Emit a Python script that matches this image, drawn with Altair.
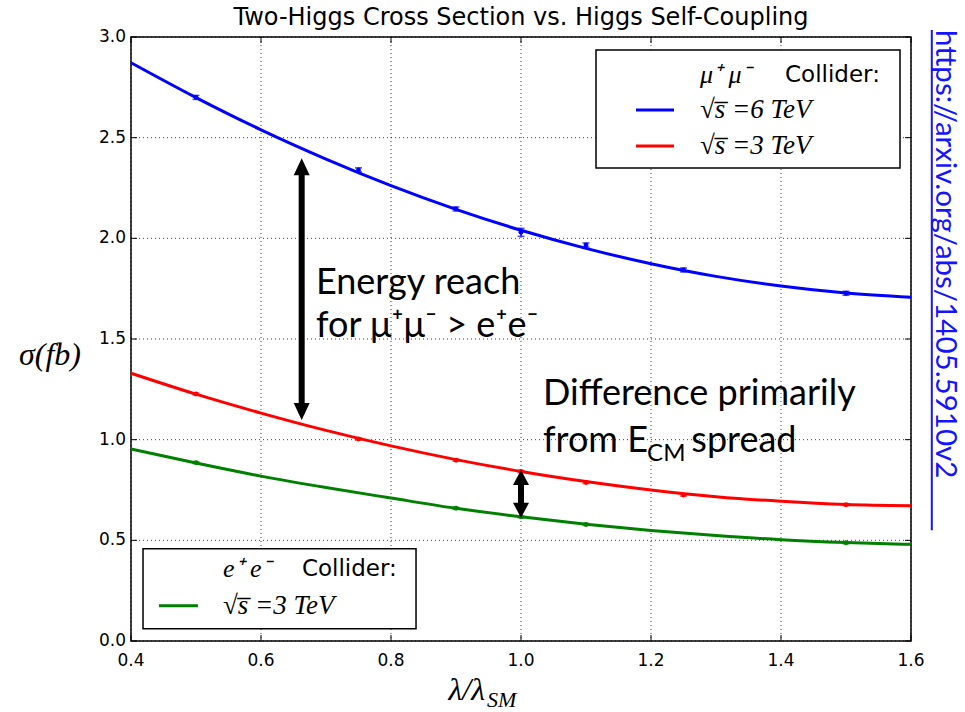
import altair as alt
import pandas as pd

# ---------------- data ----------------
lam_curve = [0.4, 0.5, 0.6, 0.7, 0.8, 0.9, 1.0, 1.1, 1.2, 1.3, 1.4, 1.5, 1.6]
mumu6_fit = [2.872, 2.699, 2.539, 2.394, 2.262, 2.144, 2.040, 1.950, 1.874, 1.811, 1.763, 1.728, 1.707]
mumu3_fit = [1.330, 1.226, 1.132, 1.046, 0.969, 0.901, 0.842, 0.792, 0.750, 0.717, 0.694, 0.678, 0.672]
ee3_fit = [0.954, 0.884, 0.819, 0.762, 0.710, 0.659, 0.617, 0.580, 0.549, 0.524, 0.503, 0.489, 0.480]

lam_mumu = [0.5, 0.75, 0.9, 1.0, 1.1, 1.25, 1.5]
mumu6_pts = [2.700, 2.340, 2.146, 2.030, 1.967, 1.843, 1.727]
mumu6_err = [0.010, 0.010, 0.010, 0.020, 0.010, 0.010, 0.010]
mumu3_pts = [1.227, 1.003, 0.898, 0.842, 0.787, 0.725, 0.677]
mumu3_err = [0.005, 0.005, 0.005, 0.005, 0.005, 0.005, 0.005]
lam_ee = [0.5, 0.9, 1.0, 1.1, 1.5]
ee3_pts = [0.886, 0.659, 0.617, 0.579, 0.488]
ee3_err = [0.005, 0.005, 0.005, 0.005, 0.005]

series = ["mumu6", "mumu3", "ee3"]
series_colors = ["#0000ff", "#ff0000", "#008000"]
x_ticks = [0.4, 0.6, 0.8, 1.0, 1.2, 1.4, 1.6]
y_ticks = [0.0, 0.5, 1.0, 1.5, 2.0, 2.5, 3.0]

# ---------------- tables ----------------
curve_rows = []
for name, vals in zip(series, [mumu6_fit, mumu3_fit, ee3_fit]):
    for lx, v in zip(lam_curve, vals):
        curve_rows.append({"lam": lx, "sigma": v, "series": name})
df_curve = pd.DataFrame(curve_rows)

pt_rows = []
for name, lams, vals, errs in [("mumu6", lam_mumu, mumu6_pts, mumu6_err),
                               ("mumu3", lam_mumu, mumu3_pts, mumu3_err),
                               ("ee3", lam_ee, ee3_pts, ee3_err)]:
    for lx, v, e in zip(lams, vals, errs):
        pt_rows.append({"lam": lx, "sigma": v, "lo": v - e, "hi": v + e, "series": name})
df_pts = pd.DataFrame(pt_rows)

W, H = 780, 604
xs = alt.Scale(domain=[0.4, 1.6], nice=False, zero=False)
ys = alt.Scale(domain=[0.0, 3.0], nice=False, zero=False)
cs = alt.Scale(domain=series, range=series_colors)


def X(f):
    return alt.X(f, type="quantitative", scale=xs, axis=None)


def Y(f):
    return alt.Y(f, type="quantitative", scale=ys, axis=None)


COL = alt.Color("series:N", scale=cs, legend=None)

df_xt = pd.DataFrame({"v": x_ticks})
df_yt = pd.DataFrame({"v": y_ticks})
GRID = dict(color="black", strokeWidth=1, strokeDash=[1, 3], opacity=0.75)

# grid, ticks and tick labels drawn through the x / y scales
axis_layers = [
    alt.Chart(df_xt).mark_rule(**GRID).encode(x=X("v"), y=alt.value(0), y2=alt.value(H)),
    alt.Chart(df_yt).mark_rule(**GRID).encode(y=Y("v"), x=alt.value(0), x2=alt.value(W)),
    alt.Chart(df_xt).mark_rule(color="black", strokeWidth=1).encode(
        x=X("v"), y=alt.value(H - 6), y2=alt.value(H)),
    alt.Chart(df_xt).mark_rule(color="black", strokeWidth=1).encode(
        x=X("v"), y=alt.value(0), y2=alt.value(6)),
    alt.Chart(df_yt).mark_rule(color="black", strokeWidth=1).encode(
        y=Y("v"), x=alt.value(0), x2=alt.value(6)),
    alt.Chart(df_yt).mark_rule(color="black", strokeWidth=1).encode(
        y=Y("v"), x=alt.value(W - 6), x2=alt.value(W)),
    alt.Chart(df_xt).mark_text(font="DejaVu Sans", fontSize=17, color="black", align="center",
                               baseline="alphabetic").encode(
        x=X("v"), y=alt.value(H + 25), text=alt.Text("v:Q", format=".1f")),
    alt.Chart(df_yt).mark_text(font="DejaVu Sans", fontSize=17, color="black", align="right",
                               baseline="middle").encode(
        y=Y("v"), x=alt.value(-5), text=alt.Text("v:Q", format=".1f")),
]

curves = alt.Chart(df_curve).mark_line(strokeWidth=3, interpolate="monotone").encode(
    x=X("lam"), y=Y("sigma"), color=COL, detail="series:N")

pts_base = alt.Chart(df_pts)
err_rules = pts_base.mark_rule(strokeWidth=1.5).encode(x=X("lam"), y=Y("lo"), y2="hi:Q", color=COL)
caps_lo = pts_base.mark_tick(orient="horizontal", size=7, thickness=1.5).encode(
    x=X("lam"), y=Y("lo"), color=COL)
caps_hi = pts_base.mark_tick(orient="horizontal", size=7, thickness=1.5).encode(
    x=X("lam"), y=Y("hi"), color=COL)
dots = pts_base.mark_circle(size=24, opacity=1).encode(x=X("lam"), y=Y("sigma"), color=COL)


def txt(s, x, y, size, font="Lato", color="black", align="left", baseline="alphabetic",
        style="normal", angle=0):
    d = pd.DataFrame({"x": [x], "y": [y], "t": [s]})
    return alt.Chart(d).mark_text(font=font, fontSize=size, color=color, align=align,
                                  baseline=baseline, fontStyle=style, angle=angle).encode(
        x=X("x"), y=Y("y"), text="t:N")


def ptxt(s, px, py, size, font, style="normal", align="center", baseline="alphabetic"):
    d = pd.DataFrame({"t": [s]})
    return alt.Chart(d).mark_text(font=font, fontSize=size, color="black", align=align,
                                  baseline=baseline, fontStyle=style).encode(
        x=alt.value(px), y=alt.value(py), text="t:N")


def rule(x1, x2, y1, y2, color, width):
    d = pd.DataFrame({"x": [x1], "x2": [x2], "y": [y1], "y2": [y2]})
    return alt.Chart(d).mark_rule(color=color, strokeWidth=width).encode(
        x=X("x"), x2="x2:Q", y=Y("y"), y2="y2:Q")


def box(x1, x2, y1, y2):
    d = pd.DataFrame({"x": [x1], "x2": [x2], "y": [y1], "y2": [y2]})
    return alt.Chart(d).mark_rect(fill="white", stroke="black", strokeWidth=1.5).encode(
        x=X("x"), x2="x2:Q", y=Y("y"), y2="y2:Q")


def head(x, y, shape, size):
    d = pd.DataFrame({"x": [x], "y": [y]})
    return alt.Chart(d).mark_point(shape=shape, size=size, filled=True, color="black",
                                   opacity=1, strokeWidth=0).encode(x=X("x"), y=Y("y"))


UP = "M0,0L-0.94,2L0.94,2Z"
DOWN = "M0,0L-0.94,-2L0.94,-2Z"
UP_S = "M0,0L-1.07,2L1.07,2Z"
DOWN_S = "M0,0L-1.07,-2L1.07,-2Z"

annotations = [
    # big arrow
    rule(0.6626, 0.6626, 2.36, 1.13, "black", 6),
    head(0.6626, 2.398, UP, 289),
    head(0.6626, 1.098, DOWN, 289),
    # small arrow
    rule(1.0, 1.0, 0.82, 0.64, "black", 6),
    head(1.0, 0.849, UP_S, 225),
    head(1.0, 0.612, DOWN_S, 225),
    # texts
    txt("Energy reach", 0.6846, 1.724, 36),
    txt("for μ⁺μ⁻ > e⁺e⁻", 0.6846, 1.512, 36),
    txt("Difference primarily", 1.0338, 1.173, 36),
    txt("from E", 1.0338, 0.941, 36),
    txt("CM", 1.194, 0.896, 24),
    txt("spread", 1.262, 0.941, 36),
    # legend upper right
    box(1.1154, 1.5831, 2.9355, 2.3496),
    txt("μ⁺ μ⁻", 1.2754, 2.8113, 26, font="Liberation Serif", style="italic", baseline="middle"),
    txt("Collider:", 1.4062, 2.8113, 23, font="DejaVu Sans", baseline="middle"),
    rule(1.1769, 1.2354, 2.6375, 2.6375, "#0000ff", 3),
    txt("√s̅ =6 TeV", 1.2754, 2.6375, 27, font="Liberation Serif", style="italic", baseline="middle"),
    rule(1.1769, 1.2354, 2.4588, 2.4588, "#ff0000", 3),
    txt("√s̅ =3 TeV", 1.2754, 2.4588, 27, font="Liberation Serif", style="italic", baseline="middle"),
    # legend lower left
    box(0.4185, 0.8385, 0.4578, 0.0606),
    txt("e⁺ e⁻", 0.5415, 0.3585, 26, font="Liberation Serif", style="italic", baseline="middle"),
    txt("Collider:", 0.663, 0.3585, 23, font="DejaVu Sans", baseline="middle"),
    rule(0.443, 0.503, 0.1748, 0.1748, "#008000", 3),
    txt("√s̅ =3 TeV", 0.5415, 0.1748, 27, font="Liberation Serif", style="italic", baseline="middle"),
    # x axis title
    txt("λ/λ", 0.9446, -0.292, 32, font="Liberation Serif", style="italic", align="right"),
    txt("SM", 0.9477, -0.33, 22, font="Liberation Serif", style="italic"),
    # url on the right
    txt("https://arxiv.org/abs/1405.5910v2", 1.638, 3.035, 29.5, color="#1414ff", angle=90),
    rule(1.632, 1.632, 3.035, 0.55, "#1414ff", 2),
    # chart title and y axis title
    ptxt("Two-Higgs Cross Section vs. Higgs Self-Coupling", W / 2, -12, 24, "DejaVu Sans"),
    ptxt("σ(fb)", -81, 318, 32, "Liberation Serif", style="italic", baseline="middle"),
]

chart = alt.layer(*axis_layers, curves, err_rules, caps_lo, caps_hi, dots, *annotations).properties(
    width=W, height=H,
    autosize=alt.AutoSizeParams(type="none"),
    padding={"left": 131, "top": 37, "right": 54, "bottom": 71},
    background="white",
).configure_view(stroke="black", strokeWidth=1.5)

chart.save("out.html", embed_options={"renderer": "svg", "actions": False})
